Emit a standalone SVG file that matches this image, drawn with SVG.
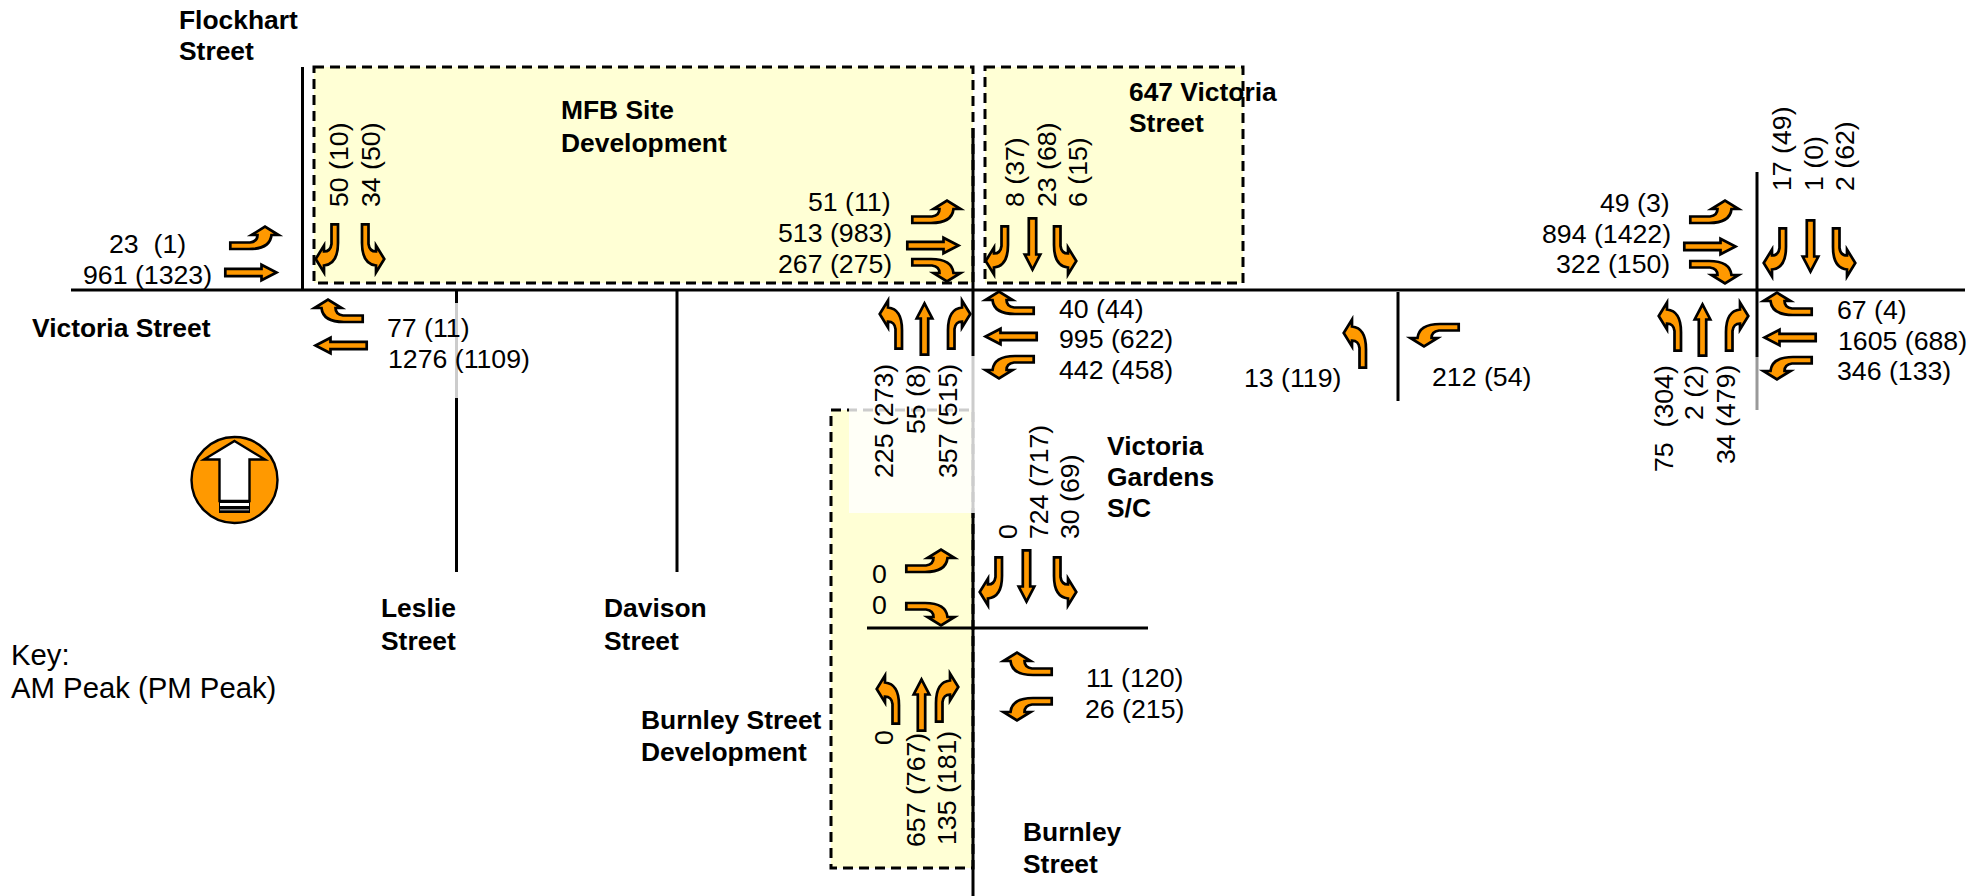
<svg xmlns="http://www.w3.org/2000/svg" width="1986" height="896" viewBox="0 0 1986 896">
<style>
text{font-family:"Liberation Sans",Arial,sans-serif;font-size:26.700px;fill:#000;white-space:pre}
.b{font-weight:bold;font-size:26.400px}
.k{font-size:29.300px}
.road{stroke:#000;stroke-width:3;fill:none}
.site{fill:#ffffd5;stroke:#000;stroke-width:3;stroke-dasharray:10 6}
.arr{fill:#f90;stroke:#000;stroke-width:2.700;stroke-linejoin:miter;stroke-miterlimit:10}
</style>
<defs>
<path id="t" class="arr" d="M1.300,17.500 L21,17.500 Q28.500,16.500 28.500,10 L22.500,10 L36,1.700 L49.500,10 L42.500,10 Q41,24 20,24 L1.300,24 Z"/>
<path id="s" class="arr" d="M1.300,5.800 L37.500,5.800 L37.500,1.700 L52.500,9.500 L37.500,17.300 L37.500,13.200 L1.300,13.200 Z"/>
</defs>
<g id="site-mfb"><rect class="site" x="314" y="67" width="659" height="216"/></g>
<g id="site-647"><rect class="site" x="985" y="67" width="258" height="216"/></g>
<g id="site-burnley"><rect class="site" x="831" y="410" width="142" height="458"/></g>
<g id="connectors">
<line class="road" x1="71" y1="290" x2="1965" y2="290"/>
<line class="road" x1="302.500" y1="67" x2="302.500" y2="290"/>
<line class="road" x1="456.500" y1="290" x2="456.500" y2="572"/>
<line class="road" x1="677" y1="290" x2="677" y2="572"/>
<line class="road" x1="973" y1="128" x2="973" y2="896"/>
<line class="road" x1="867" y1="628" x2="1148" y2="628"/>
<line class="road" x1="1398" y1="292" x2="1398" y2="401"/>
<line class="road" x1="1757" y1="172" x2="1757" y2="410"/>
</g>
<g id="fades" fill="#fff" fill-opacity=".8">
<rect x="849" y="356" width="126" height="157"/>
<rect x="454" y="303" width="5" height="95"/>
<rect x="1755" y="357" width="4" height="53" fill-opacity=".6"/>
</g>
<g id="north">
<circle cx="234.500" cy="480" r="43" fill="#f90" stroke="#000" stroke-width="2.400"/>
<rect x="219" y="500" width="31" height="13" fill="#000"/>
<rect x="220" y="503" width="29" height="3" fill="#fff"/>
<rect x="220" y="509" width="29" height="1.500" fill="#888"/>
<path d="M234.500,441 L265,459.500 L249.500,459.500 L249.500,501 L219.500,501 L219.500,459.500 L204,459.500 Z" fill="#fff" stroke="#000" stroke-width="2.400"/>
</g>
<g id="flockhart">
<use href="#t" transform="translate(229,225)"/>
<use href="#s" transform="translate(224,263)"/>
<use href="#t" transform="matrix(0 1 1 0 314 223)"/>
<use href="#t" transform="matrix(0 1 -1 0 386 223)"/>
<use href="#t" transform="matrix(-1 0 0 1 364 298)"/>
<use href="#s" transform="matrix(-1 0 0 1 368 336)"/>
<text class="b" x="179" y="29">Flockhart</text><text class="b" x="179" y="60">Street</text>
<text class="b" x="32" y="337">Victoria Street</text>
<text x="109" y="253">23  (1)</text><text x="83" y="284">961 (1323)</text>
<text transform="translate(348,207) rotate(-90)">50 (10)</text>
<text transform="translate(380,207) rotate(-90)">34 (50)</text>
<text x="387" y="337">77 (11)</text><text x="388" y="368">1276 (1109)</text>
</g>
<g id="burnley-north">
<use href="#t" transform="translate(911,199)"/>
<use href="#s" transform="translate(906,236)"/>
<use href="#t" transform="matrix(1 0 0 -1 911 283)"/>
<use href="#t" transform="matrix(0 1 1 0 984 225)"/>
<use href="#s" transform="matrix(0 1 1 0 1023 217)"/>
<use href="#t" transform="matrix(0 1 -1 0 1078 225)"/>
<use href="#t" transform="matrix(0 -1 1 0 878 350)"/>
<use href="#s" transform="matrix(0 -1 1 0 915 356)"/>
<use href="#t" transform="matrix(0 -1 -1 0 972 350)"/>
<use href="#t" transform="matrix(-1 0 0 1 1035 290)"/>
<use href="#s" transform="matrix(-1 0 0 1 1038 327)"/>
<use href="#t" transform="matrix(-1 0 0 -1 1035 380)"/>
<text class="b" x="561" y="119">MFB Site</text><text class="b" x="561" y="152">Development</text>
<text class="b" x="1129" y="101">647 Victoria</text><text class="b" x="1129" y="132">Street</text>
<text x="808" y="211">51 (11)</text><text x="778" y="242">513 (983)</text><text x="778" y="273">267 (275)</text>
<text transform="translate(1024,207) rotate(-90)">8 (37)</text>
<text transform="translate(1056,207) rotate(-90)">23 (68)</text>
<text transform="translate(1087,207) rotate(-90)">6 (15)</text>
<text x="1059" y="318">40 (44)</text><text x="1059" y="348">995 (622)</text><text x="1059" y="379">442 (458)</text>
<text transform="translate(893,478) rotate(-90)">225 (273)</text>
<text transform="translate(925,434) rotate(-90)">55 (8)</text>
<text transform="translate(957,478) rotate(-90)">357 (515)</text>
</g>
<g id="burnley-south">
<use href="#t" transform="translate(905,548)"/>
<use href="#t" transform="matrix(1 0 0 -1 905 627)"/>
<use href="#t" transform="matrix(0 1 1 0 978 556)"/>
<use href="#s" transform="matrix(0 1 1 0 1017 549)"/>
<use href="#t" transform="matrix(0 1 -1 0 1078 556)"/>
<use href="#t" transform="matrix(0 -1 1 0 875 725)"/>
<use href="#s" transform="matrix(0 -1 1 0 912 732)"/>
<use href="#t" transform="matrix(0 -1 -1 0 960 723)"/>
<use href="#t" transform="matrix(-1 0 0 1 1053 651)"/>
<use href="#t" transform="matrix(-1 0 0 -1 1053 722)"/>
<text class="b" x="1107" y="455">Victoria</text><text class="b" x="1107" y="486">Gardens</text><text class="b" x="1107" y="517">S/C</text>
<text transform="translate(1017,539) rotate(-90)">0</text>
<text transform="translate(1048,539) rotate(-90)">724 (717)</text>
<text transform="translate(1079,539) rotate(-90)">30 (69)</text>
<text x="872" y="583">0</text><text x="872" y="614">0</text>
<text x="1086" y="687">11 (120)</text><text x="1085" y="718">26 (215)</text>
<text transform="translate(893,745) rotate(-90)">0</text>
<text transform="translate(925,847) rotate(-90)">657 (767)</text>
<text transform="translate(956,845) rotate(-90)">135 (181)</text>
<text class="b" x="1023" y="841">Burnley</text><text class="b" x="1023" y="873">Street</text>
<text class="b" x="641" y="729">Burnley Street</text><text class="b" x="641" y="761">Development</text>
</g>
<g id="midblock">
<use href="#t" transform="matrix(0 -1 1 0 1342 369)"/>
<use href="#t" transform="matrix(-1 0 0 -1 1460 348)"/>
<text x="1244" y="387">13 (119)</text><text x="1432" y="386">212 (54)</text>
</g>
<g id="east">
<use href="#t" transform="translate(1689,199)"/>
<use href="#s" transform="translate(1683,237)"/>
<use href="#t" transform="matrix(1 0 0 -1 1689 285)"/>
<use href="#t" transform="matrix(0 1 1 0 1762 227)"/>
<use href="#s" transform="matrix(0 1 1 0 1801 219)"/>
<use href="#t" transform="matrix(0 1 -1 0 1857 227)"/>
<use href="#t" transform="matrix(0 -1 1 0 1657 352)"/>
<use href="#s" transform="matrix(0 -1 1 0 1693 357)"/>
<use href="#t" transform="matrix(0 -1 -1 0 1750 352)"/>
<use href="#t" transform="matrix(-1 0 0 1 1813 291)"/>
<use href="#s" transform="matrix(-1 0 0 1 1817 328)"/>
<use href="#t" transform="matrix(-1 0 0 -1 1813 381)"/>
<text x="1600" y="212">49 (3)</text><text x="1542" y="243">894 (1422)</text><text x="1556" y="273">322 (150)</text>
<text transform="translate(1791,191) rotate(-90)">17 (49)</text>
<text transform="translate(1823,191) rotate(-90)">1 (0)</text>
<text transform="translate(1854,191) rotate(-90)">2 (62)</text>
<text x="1837" y="319">67 (4)</text><text x="1838" y="350">1605 (688)</text><text x="1837" y="380">346 (133)</text>
<text transform="translate(1673,472) rotate(-90)">75  (304)</text>
<text transform="translate(1703,420) rotate(-90)">2 (2)</text>
<text transform="translate(1735,464) rotate(-90)">34 (479)</text>
</g>
<g id="street-labels">
<text class="b" x="381" y="617">Leslie</text><text class="b" x="381" y="650">Street</text>
<text class="b" x="604" y="617">Davison</text><text class="b" x="604" y="650">Street</text>
<text class="k" x="11" y="665">Key:</text><text class="k" x="11" y="698">AM Peak (PM Peak)</text>
</g>
</svg>
